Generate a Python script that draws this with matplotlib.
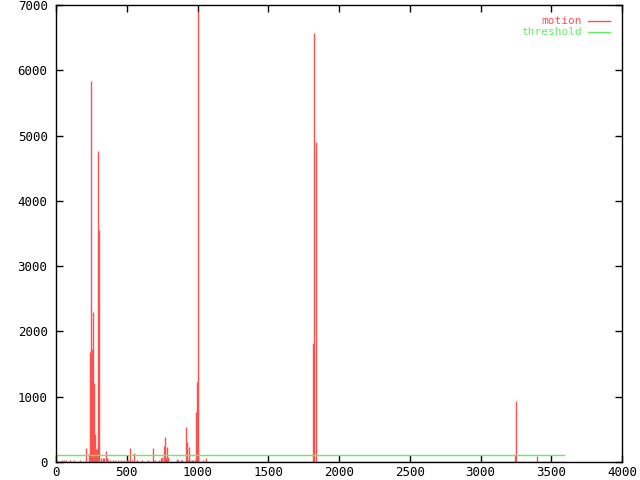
import matplotlib
matplotlib.use("Agg")
import matplotlib.pyplot as plt
import numpy as np

# frame range of the recording
frame_range = [0, 3600]
threshold = 100

# motion impulses: frame index and motion value (zero elsewhere)
frames = [45, 60, 74, 102, 124, 173,
          215, 230, 240, 247, 254, 261, 268, 275, 282, 289, 296, 303,
          320, 330, 340, 350, 357, 370, 385, 400, 420, 440, 460, 480, 500, 510,
          525, 535, 548, 570, 611, 650, 689, 700, 730, 745, 752, 760, 767, 774,
          785, 792, 852, 860, 880, 890, 917, 924, 930, 943, 950, 960, 970, 980,
          990, 997, 1004, 1040, 1060,
          1813, 1820, 1834,
          3244, 3251, 3400]
motion = [25, 25, 25, 25, 25, 25,
          219, 127, 1690, 5840, 1735, 2300, 1215, 433, 204, 204, 4770, 3560,
          66, 66, 66, 173, 66, 25, 25, 25, 25, 25, 25, 25, 25, 25,
          219, 25, 142, 25, 37, 25, 219, 25, 25, 60, 70, 245, 384, 60,
          235, 70, 50, 25, 25, 25, 540, 311, 25, 235, 25, 25, 25, 30,
          770, 1230, 6910, 25, 66,
          1827, 6575, 4905,
          127, 939, 97]

x_ticks = [0, 500, 1000, 1500, 2000, 2500, 3000, 3500, 4000]
y_ticks = [0, 1000, 2000, 3000, 4000, 5000, 6000, 7000]

red = '#ff5050'
green = '#60f060'
lw1 = 1.0

plt.rcParams['font.family'] = ['DejaVu Sans Mono']
fig = plt.figure(figsize=(6.4, 4.8), dpi=100)
ax = fig.add_axes([56/640, 18/480, 566/640, 457/480])

ax.vlines(frames, 0, motion, color=red, lw=lw1, antialiased=True, snap=True)
ax.hlines(0, frame_range[0], frame_range[1], color=red, lw=lw1, antialiased=True, snap=True)
ax.hlines(threshold, frame_range[0], frame_range[1], color=green, lw=lw1, antialiased=True, snap=True)

ax.set_xlim(0, 4000)
ax.set_ylim(0, 7000)
ax.set_xticks(x_ticks)
ax.set_yticks(y_ticks)
ax.tick_params(direction='in', length=5, width=1, top=True, right=True,
               labelsize=9, colors='black')
ax.tick_params(axis='x', pad=3)
ax.tick_params(axis='y', pad=6)
for s in ax.spines.values():
    s.set_linewidth(1)
    s.set_color('black')

# legend (gnuplot style: right-aligned coloured text with sample line)
fig.text(582/640, 1 - 21/480, 'motion', color=red, fontsize=8, ha='right', va='center')
fig.text(582/640, 1 - 32/480, 'threshold', color=green, fontsize=8, ha='right', va='center')
fig.add_artist(plt.Line2D([588/640, 610/640], [1 - 21/480] * 2, color=red, lw=lw1, snap=True))
fig.add_artist(plt.Line2D([588/640, 610/640], [1 - 32/480] * 2, color=green, lw=lw1, snap=True))

fig.savefig('out.png', dpi=100)
